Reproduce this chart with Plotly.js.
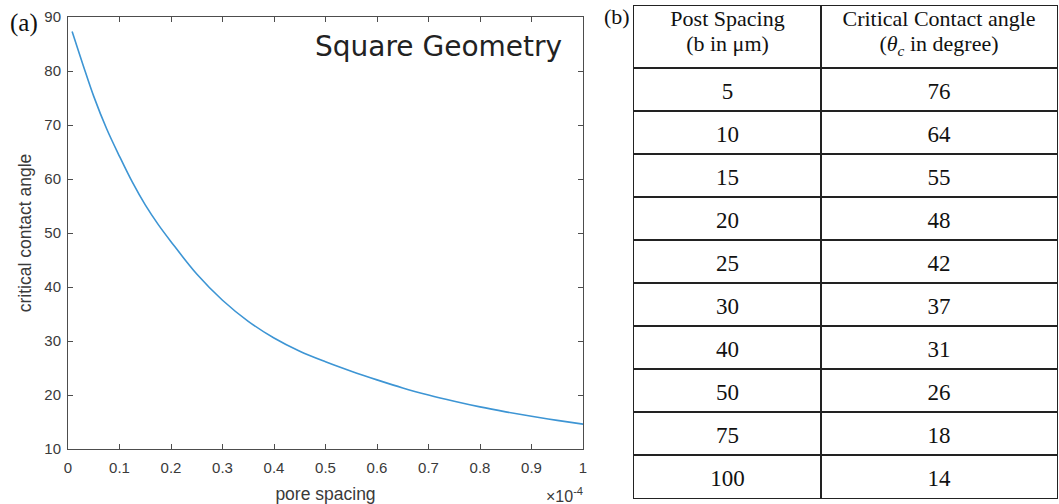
<!DOCTYPE html>
<html>
<head>
<meta charset="utf-8">
<script src="https://cdn.plot.ly/plotly-3.0.1.min.js"></script>
<style>html,body{margin:0;padding:0;background:#fff;}#chart{width:1059px;height:504px;}</style>
</head>
<body>
<div id="chart"></div>
<script>
// ---- Data: curve (pore spacing in units of 1e-4, critical contact angle in degrees)
var poreSpacing = [0.008, 0.02, 0.03, 0.05, 0.075, 0.1, 0.125, 0.15, 0.175, 0.2, 0.25, 0.3, 0.35, 0.4, 0.45, 0.5, 0.55, 0.6, 0.65, 0.7, 0.75, 0.8, 0.85, 0.9, 0.95, 1.0];
var contactAngle = [87.3, 83.8, 80.9, 75.3, 69.3, 64.2, 59.4, 55.2, 51.6, 48.4, 42.4, 37.55, 33.65, 30.55, 28.1, 26.15, 24.4, 22.8, 21.3, 20.0, 18.85, 17.8, 16.88, 16.05, 15.3, 14.6];

// ---- Data: table
var headerLine1 = ["Post Spacing", "Critical Contact angle"];
var headerLine2 = ["(b in μm)", "(<i>θ<sub>c</sub></i> in degree)"];
var postSpacing = ["5", "10", "15", "20", "25", "30", "40", "50", "75", "100"];
var criticalAngle = ["76", "64", "55", "48", "42", "37", "31", "26", "18", "14"];

// ---- Tick labels
var xTickVals = [0, 0.1, 0.2, 0.3, 0.4, 0.5, 0.6, 0.7, 0.8, 0.9, 1];
var xTickText = ["0", "0.1", "0.2", "0.3", "0.4", "0.5", "0.6", "0.7", "0.8", "0.9", "1"];
var yTickVals = [10, 20, 30, 40, 50, 60, 70, 80, 90];

// ---- Layout constants
var W = 1059, H = 504;
function px(x){ return x / W; }
function py(y){ return 1 - y / H; }

var colWidths = [187, 236];       // table column widths (table axis units = px)
var headerH = 62, rowH = 43;      // table row heights
var headerLineY = [14.5, 39.5];   // header text line centres inside header
var cellTextShift = 3.5;          // digits sit slightly below row centre

var tableW = colWidths[0] + colWidths[1];
var tableH = headerH + rowH * postSpacing.length;
var colCenters = [colWidths[0] / 2, colWidths[0] + colWidths[1] / 2];
var rowBounds = [];
for (var i = 0; i < postSpacing.length; i++) rowBounds.push(headerH + i * rowH);
function rowCenter(i){ return headerH + (i + 0.5) * rowH + cellTextShift; }

var axisColor = '#4d4d4d';
var gridColor = '#222222';
var sans = 'Liberation Sans, Arial, sans-serif';
var serif = 'Liberation Serif, Times New Roman, serif';
var tickFont = {family: sans, size: 15, color: '#3a3a3a'};

// Table text traces
var tableTraces = [];
[postSpacing, criticalAngle].forEach(function(col, c){
  tableTraces.push({
    type: 'scatter', mode: 'text', xaxis: 'x2', yaxis: 'y2',
    x: col.map(function(){ return colCenters[c]; }),
    y: col.map(function(_, i){ return rowCenter(i); }),
    text: col, textposition: 'middle center',
    textfont: {family: serif, size: 23, color: '#111'},
    showlegend: false, hoverinfo: 'skip'
  });
});
[headerLine1, headerLine2].forEach(function(line, l){
  tableTraces.push({
    type: 'scatter', mode: 'text', xaxis: 'x2', yaxis: 'y2',
    x: colCenters.slice(),
    y: line.map(function(){ return headerLineY[l]; }),
    text: line, textposition: 'middle center',
    textfont: {family: serif, size: 22, color: '#111'},
    showlegend: false, hoverinfo: 'skip'
  });
});

var traces = [
  {
    type: 'scatter', mode: 'lines',
    x: poreSpacing, y: contactAngle,
    line: {color: '#3d95d4', width: 1.6, shape: 'spline', smoothing: 1.0},
    xaxis: 'x', yaxis: 'y', showlegend: false, hoverinfo: 'x+y'
  }
].concat(tableTraces);

var layout = {
  width: W, height: H,
  margin: {l: 0, r: 0, t: 0, b: 0},
  paper_bgcolor: '#ffffff', plot_bgcolor: 'rgba(0,0,0,0)',
  showlegend: false,
  xaxis: {
    domain: [px(68), px(583)],
    range: [0, 1],
    tickvals: xTickVals, ticktext: xTickText,
    ticks: 'inside', ticklen: 5, tickwidth: 1, tickcolor: axisColor,
    showline: true, linecolor: axisColor, linewidth: 1, mirror: 'allticks',
    showgrid: false, zeroline: false,
    tickfont: tickFont, ticklabelstandoff: 5,
    title: {text: 'pore spacing', font: {family: sans, size: 17.5, color: '#3a3a3a'}, standoff: 12}
  },
  yaxis: {
    domain: [py(449), py(17)],
    range: [10, 90],
    tickvals: yTickVals,
    ticks: 'inside', ticklen: 5, tickwidth: 1, tickcolor: axisColor,
    showline: true, linecolor: axisColor, linewidth: 1, mirror: 'allticks',
    showgrid: false, zeroline: false,
    tickfont: tickFont, ticklabelstandoff: 3,
    title: {text: 'critical contact angle', font: {family: sans, size: 17.5, color: '#3a3a3a'}, standoff: 8}
  },
  xaxis2: {
    domain: [px(634), px(634 + tableW)],
    range: [0, tableW],
    anchor: 'y2',
    tickvals: [colWidths[0]], showticklabels: false, ticks: '',
    showgrid: true, gridcolor: gridColor, gridwidth: 1.3,
    showline: true, mirror: true, linecolor: gridColor, linewidth: 1.3,
    zeroline: false, fixedrange: true
  },
  yaxis2: {
    domain: [py(6 + tableH), py(6)],
    range: [tableH, 0],
    anchor: 'x2',
    tickvals: rowBounds, showticklabels: false, ticks: '',
    showgrid: true, gridcolor: gridColor, gridwidth: 1.3,
    showline: true, mirror: true, linecolor: gridColor, linewidth: 1.3,
    zeroline: false, fixedrange: true
  },
  annotations: [
    {xref: 'paper', yref: 'paper', x: px(564), y: py(46), xanchor: 'right', yanchor: 'middle',
     text: 'Square Geometry', showarrow: false,
     font: {family: 'DejaVu Sans, sans-serif', size: 28, color: '#222'}},
    {xref: 'paper', yref: 'paper', x: px(585), y: py(495), xanchor: 'right', yanchor: 'middle',
     text: '×10<sup>-4</sup>', showarrow: false,
     font: {family: sans, size: 16, color: '#3a3a3a'}},
    {xref: 'paper', yref: 'paper', x: px(8), y: py(23), xanchor: 'left', yanchor: 'middle',
     text: '(a)', showarrow: false,
     font: {family: serif, size: 25, color: '#111'}},
    {xref: 'paper', yref: 'paper', x: px(602), y: py(16), xanchor: 'left', yanchor: 'middle',
     text: '(b)', showarrow: false,
     font: {family: serif, size: 22, color: '#111'}}
  ]
};

Plotly.newPlot('chart', traces, layout, {staticPlot: true, displayModeBar: false});
</script>
</body>
</html>
